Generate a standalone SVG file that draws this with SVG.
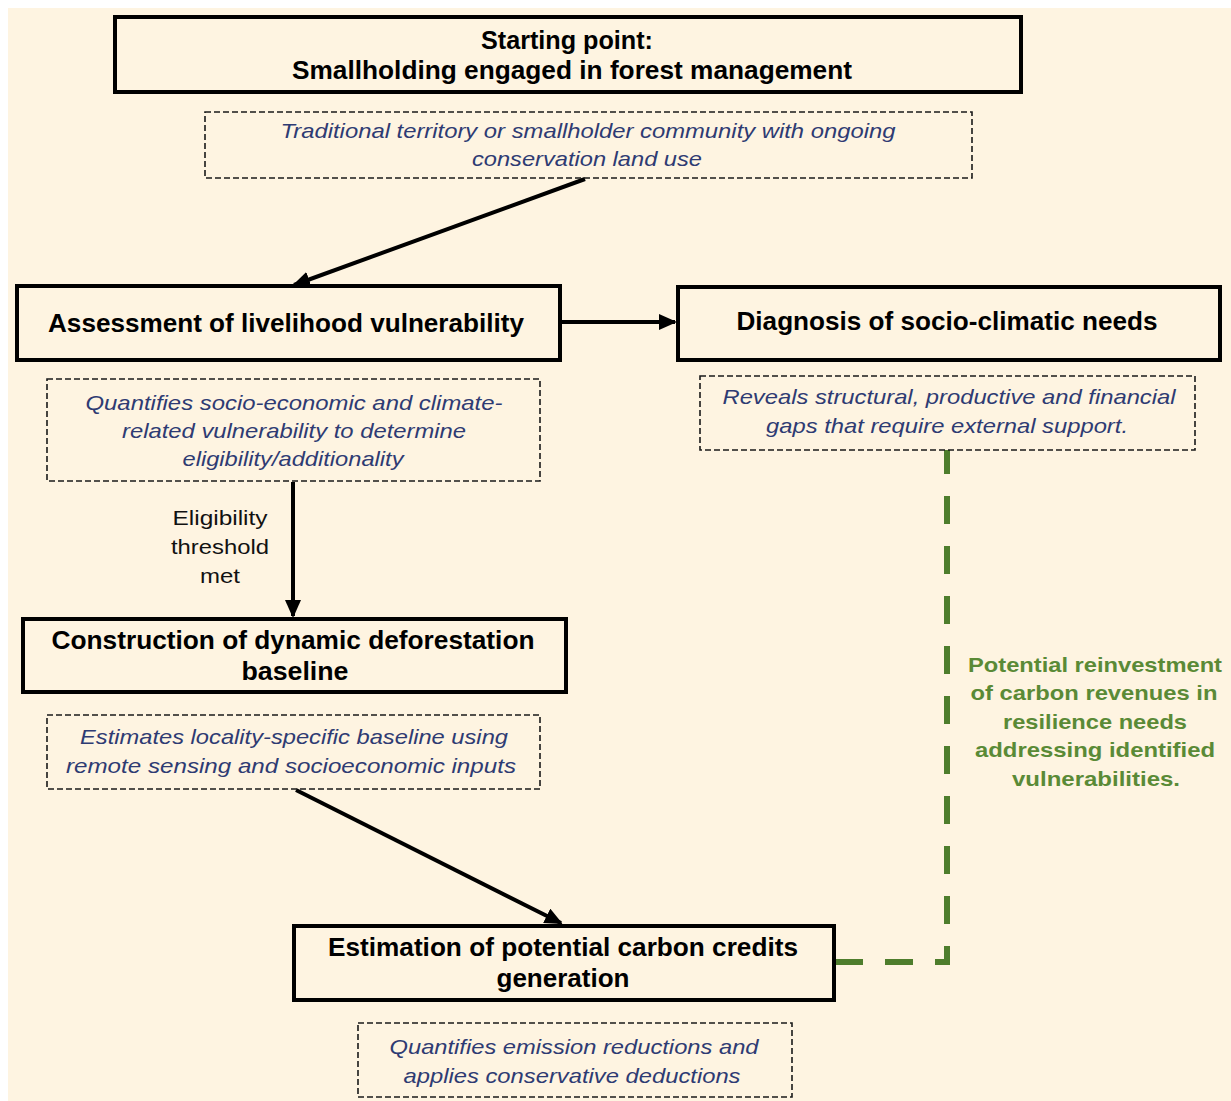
<svg xmlns="http://www.w3.org/2000/svg" width="1231" height="1101" viewBox="0 0 1231 1101">
<defs>
<style>
.box{fill:none;stroke:#000;stroke-width:4}
.note{fill:none;stroke:#1a1a1a;stroke-width:1.6;stroke-dasharray:6 3}
.title{font-family:"Liberation Sans",Arial,sans-serif;font-weight:bold;font-size:25px;fill:#000;text-anchor:middle}
.desc{font-family:"Liberation Sans",Arial,sans-serif;font-style:italic;font-size:21px;fill:#2E3B73;text-anchor:middle}
.lbl{font-family:"Liberation Sans",Arial,sans-serif;font-size:21px;fill:#111;text-anchor:middle}
.green{font-family:"Liberation Sans",Arial,sans-serif;font-weight:bold;font-size:21px;fill:#5A8A36;text-anchor:middle}
.conn{stroke:#000;stroke-width:4;fill:none;marker-end:url(#ah)}
.gdash{stroke:#4E7D2C;stroke-width:6;fill:none;stroke-dasharray:28 22}
</style>
<marker id="ah" markerUnits="userSpaceOnUse" markerWidth="18" markerHeight="16" refX="16" refY="8" orient="auto">
<path d="M0,0 L18,8 L0,16 z" fill="#000"/>
</marker>
</defs>
<rect x="0" y="0" width="1231" height="1101" fill="#fff"/>
<rect x="8" y="8" width="1223" height="1093" fill="#FEF4E1"/>

<g id="connectors">
<line class="conn" x1="585" y1="179" x2="294" y2="285"/>
<line class="conn" x1="562" y1="322" x2="675" y2="322"/>
<line class="conn" x1="293" y1="482" x2="293" y2="616"/>
<line class="conn" x1="296" y1="790" x2="561" y2="923"/>
<path class="gdash" d="M835,962 H947 V450"/>
</g>

<g id="start">
<rect class="box" x="115" y="17" width="906" height="75"/>
<text class="title" x="567" y="49" textLength="172" lengthAdjust="spacingAndGlyphs">Starting point:</text>
<text class="title" x="572" y="79" textLength="560" lengthAdjust="spacingAndGlyphs">Smallholding engaged in forest management</text>
</g>
<g id="start-note">
<rect class="note" x="205" y="112" width="767" height="66"/>
<text class="desc" x="588" y="138" textLength="615" lengthAdjust="spacingAndGlyphs">Traditional territory or smallholder community with ongoing</text>
<text class="desc" x="587" y="166" textLength="230" lengthAdjust="spacingAndGlyphs">conservation land use</text>
</g>

<g id="assessment">
<rect class="box" x="17" y="286" width="543" height="74"/>
<text class="title" x="286" y="332" textLength="476" lengthAdjust="spacingAndGlyphs">Assessment of livelihood vulnerability</text>
</g>
<g id="assessment-note">
<rect class="note" x="47" y="379" width="493" height="102"/>
<text class="desc" x="294" y="410" textLength="417" lengthAdjust="spacingAndGlyphs">Quantifies socio-economic and climate-</text>
<text class="desc" x="294" y="438" textLength="344" lengthAdjust="spacingAndGlyphs">related vulnerability to determine</text>
<text class="desc" x="293" y="466" textLength="221" lengthAdjust="spacingAndGlyphs">eligibility/additionality</text>
</g>

<g id="diagnosis">
<rect class="box" x="678" y="287" width="542" height="73"/>
<text class="title" x="947" y="330" textLength="421" lengthAdjust="spacingAndGlyphs">Diagnosis of socio-climatic needs</text>
</g>
<g id="diagnosis-note">
<rect class="note" x="700" y="376" width="495" height="74"/>
<text class="desc" x="949" y="404" textLength="453" lengthAdjust="spacingAndGlyphs">Reveals structural, productive and financial</text>
<text class="desc" x="947" y="433" textLength="362" lengthAdjust="spacingAndGlyphs">gaps that require external support.</text>
</g>

<g id="eligibility-label">
<text class="lbl" x="220" y="525" textLength="95" lengthAdjust="spacingAndGlyphs">Eligibility</text>
<text class="lbl" x="220" y="554" textLength="98" lengthAdjust="spacingAndGlyphs">threshold</text>
<text class="lbl" x="220" y="583" textLength="40" lengthAdjust="spacingAndGlyphs">met</text>
</g>

<g id="baseline">
<rect class="box" x="23" y="619" width="543" height="73"/>
<text class="title" x="293" y="649" textLength="483" lengthAdjust="spacingAndGlyphs">Construction of dynamic deforestation</text>
<text class="title" x="295" y="680" textLength="107" lengthAdjust="spacingAndGlyphs">baseline</text>
</g>
<g id="baseline-note">
<rect class="note" x="47" y="715" width="493" height="74"/>
<text class="desc" x="294" y="744" textLength="428" lengthAdjust="spacingAndGlyphs">Estimates locality-specific baseline using</text>
<text class="desc" x="291" y="773" textLength="450" lengthAdjust="spacingAndGlyphs">remote sensing and socioeconomic inputs</text>
</g>

<g id="estimation">
<rect class="box" x="294" y="926" width="540" height="74"/>
<text class="title" x="563" y="956" textLength="470" lengthAdjust="spacingAndGlyphs">Estimation of potential carbon credits</text>
<text class="title" x="563" y="987" textLength="133" lengthAdjust="spacingAndGlyphs">generation</text>
</g>
<g id="estimation-note">
<rect class="note" x="358" y="1023" width="434" height="74"/>
<text class="desc" x="574" y="1054" textLength="369" lengthAdjust="spacingAndGlyphs">Quantifies emission reductions and</text>
<text class="desc" x="572" y="1083" textLength="337" lengthAdjust="spacingAndGlyphs">applies conservative deductions</text>
</g>

<g id="reinvestment-label">
<text class="green" x="1095" y="672" textLength="254" lengthAdjust="spacingAndGlyphs">Potential reinvestment</text>
<text class="green" x="1094" y="700" textLength="247" lengthAdjust="spacingAndGlyphs">of carbon revenues in</text>
<text class="green" x="1095" y="729" textLength="184" lengthAdjust="spacingAndGlyphs">resilience needs</text>
<text class="green" x="1095" y="757" textLength="240" lengthAdjust="spacingAndGlyphs">addressing identified</text>
<text class="green" x="1096" y="786" textLength="168" lengthAdjust="spacingAndGlyphs">vulnerabilities.</text>
</g>
</svg>
